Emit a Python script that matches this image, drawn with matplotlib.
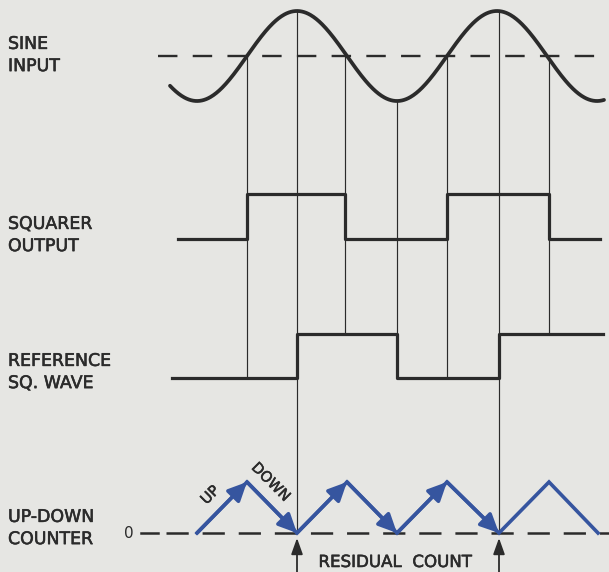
import numpy as np
import matplotlib
matplotlib.use("Agg")
import matplotlib.pyplot as plt
import matplotlib.patheffects as pe

plt.rcParams['font.family'] = ['DejaVu Sans']
plt.rcParams['lines.scale_dashes'] = False

# ---------------- data (time axis in drawing units) ----------------
row_labels = ["SINE\nINPUT", "SQUARER\nOUTPUT", "REFERENCE\nSQ. WAVE", "UP-DOWN\nCOUNTER"]

# sine input
sine_peak_t = 297
sine_period = 200
sine_start_t, sine_end_t = 170, 604

# squarer output (steps-post)
squarer_t = [178, 247, 345, 447, 549, 600]
squarer_v = [0, 1, 0, 1, 0, 0]

# reference square wave (steps-post)
ref_t = [172, 297, 397, 499, 603]
ref_v = [0, 1, 0, 1, 1]

# up-down counter
counter_t = [197, 247, 297, 347, 397, 447, 499, 549, 598]
counter_v = [0, 1, 0, 1, 0, 1, 0, 1, 0]
counter_arrowed = 6  # first segments carrying an arrowhead

# vertical guide lines: time, and the row each line ends on
guide_t = [247, 297, 345, 397, 447, 499, 549]
guide_end = ["ref", "counter", "ref", "ref", "ref", "counter", "ref"]

residual_t = [297, 499]

# ---------------- layout ----------------
W, H = 609, 572
sine_mid, sine_amp = 56, 45
sq_low, sq_high = 239, 194
ref_low, ref_high = 378, 334
cnt_base, cnt_height = 533, 51

ink = "#2b2b2b"
blue = "#36559f"
bg = "#e6e6e3"
bold = [pe.withStroke(linewidth=0.4, foreground=ink)]

fig = plt.figure(figsize=(W / 100, H / 100), dpi=100)
fig.patch.set_facecolor(bg)
ax = fig.add_axes([0, 0, 1, 1])
ax.set_facecolor(bg)
ax.set_xlim(0, W)
ax.set_ylim(H, 0)
ax.axis("off")


def sine_y(t):
    t = np.asarray(t, dtype=float)
    return sine_mid - sine_amp * np.cos(2 * np.pi * (t - sine_peak_t) / sine_period)


def sq_y(v):
    return sq_low + (sq_high - sq_low) * np.asarray(v)


def ref_y(v):
    return ref_low + (ref_high - ref_low) * np.asarray(v)


# guide lines
for t, end in zip(guide_t, guide_end):
    top = float(sine_y(t))
    if end == "counter":
        bottom = cnt_base
    else:
        idx = np.searchsorted(ref_t, t, side="right") - 1
        bottom = float(ref_y(ref_v[idx]))
        if t in ref_t:
            bottom = max(float(ref_y(ref_v[idx - 1])), float(ref_y(ref_v[idx])))
    ax.plot([t, t], [top, bottom], color=ink, lw=0.85, zorder=1)

# sine dashed centre line
ax.plot([158, W], [sine_mid, sine_mid], color=ink, lw=1.7, dashes=(14, 11), zorder=2)

# sine input
ts = np.linspace(sine_start_t, sine_end_t, 600)
ax.plot(ts, sine_y(ts), color=ink, lw=2.7, solid_capstyle="round", zorder=3)

# squarer output
ax.plot(squarer_t, sq_y(squarer_v), color=ink, lw=2.3, drawstyle="steps-post", zorder=3)

# reference square wave
ax.plot(ref_t, ref_y(ref_v), color=ink, lw=2.3, drawstyle="steps-post", zorder=3)

# counter baseline
ax.text(124, cnt_base, "0", fontsize=11, color=ink, va="center", ha="left")
ax.plot([141, 158], [cnt_base, cnt_base], color=ink, lw=1.8, zorder=2)
ax.plot([166, W], [cnt_base, cnt_base], color=ink, lw=1.8, dashes=(16, 10), zorder=2)

# counter zigzag
cy = cnt_base - cnt_height * np.asarray(counter_v)
ax.plot(counter_t, cy, color=blue, lw=2.6, solid_joinstyle="miter", zorder=4)
for i in range(counter_arrowed):
    ax.annotate("", xy=(counter_t[i + 1], cy[i + 1]), xytext=(counter_t[i], cy[i]),
                arrowprops=dict(arrowstyle="-|>,head_length=0.8,head_width=0.38",
                                color=blue, lw=2.6, shrinkA=0, shrinkB=0,
                                mutation_scale=14), zorder=5)

ax.text(210, 495, "UP", rotation=45, fontsize=10.5, color=ink, ha="center", va="center",
        path_effects=bold)
ax.text(271, 482, "DOWN", rotation=-45, fontsize=10.5, color=ink, ha="center", va="center",
        path_effects=bold)

# residual count arrows
for t in residual_t:
    ax.annotate("", xy=(t, 538), xytext=(t, H + 5),
                arrowprops=dict(arrowstyle="-|>,head_length=0.7,head_width=0.25",
                                color=ink, lw=1.3, shrinkA=0, shrinkB=0,
                                mutation_scale=14), zorder=5)
ax.text(395, 562, "RESIDUAL  COUNT", fontsize=12, color=ink, ha="center", va="center",
        path_effects=bold)

# row labels
label_y = [55, 235, 372, 528]
for lab, y in zip(row_labels, label_y):
    ax.text(8, y, lab, fontsize=12.5, color=ink, ha="left", va="center", linespacing=1.3,
            path_effects=bold)

fig.savefig("out.png", dpi=100, facecolor=bg)
